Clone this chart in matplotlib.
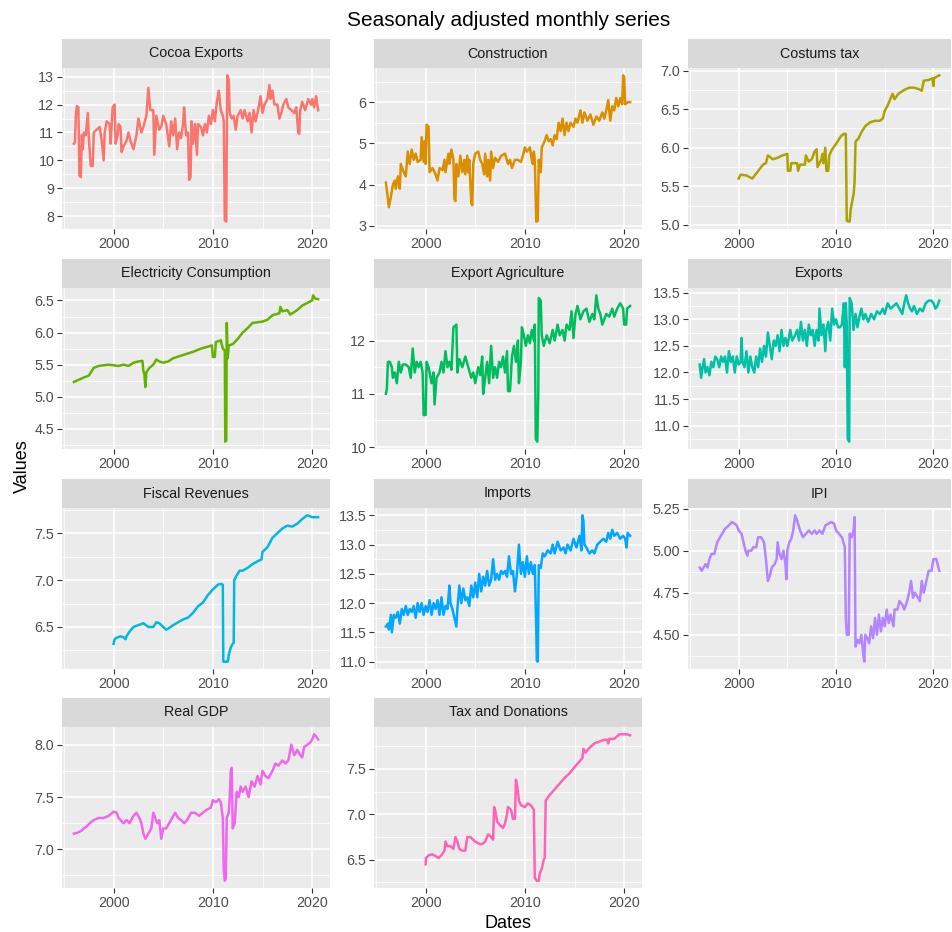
import matplotlib
matplotlib.use("Agg")
import matplotlib.pyplot as plt
from matplotlib.ticker import MultipleLocator, FormatStrFormatter

# ===== DATA =====
cocoa_t = [1996.0, 1996.1, 1996.2, 1996.3, 1996.45, 1996.55, 1996.7, 1996.8, 1996.9, 1997.0, 1997.2, 1997.4, 1997.5,
           1997.7, 1997.9, 1998.0, 1998.3, 1998.6, 1998.8, 1999.0, 1999.1, 1999.3, 1999.6, 1999.7, 1999.9, 2000.1,
           2000.2, 2000.4, 2000.5, 2000.7, 2000.8, 2001.0, 2001.3, 2001.5, 2001.7, 2002.0, 2002.3, 2002.5, 2002.8,
           2003.0, 2003.3, 2003.5, 2003.7, 2004.0, 2004.1, 2004.3, 2004.6, 2004.8, 2005.0, 2005.3, 2005.6, 2005.8,
           2006.0, 2006.2, 2006.4, 2006.6, 2006.8, 2007.0, 2007.1, 2007.3, 2007.5, 2007.6, 2007.75, 2007.85, 2008.0,
           2008.2, 2008.4, 2008.5, 2008.8, 2009.0, 2009.2, 2009.4, 2009.6, 2009.8, 2010.0, 2010.2, 2010.4, 2010.6,
           2010.8, 2011.0, 2011.1, 2011.2, 2011.35, 2011.45, 2011.6, 2011.7, 2011.9, 2012.1, 2012.3, 2012.5, 2012.8,
           2013.0, 2013.2, 2013.5, 2013.7, 2013.9, 2014.1, 2014.3, 2014.5, 2014.8, 2015.0, 2015.2, 2015.5, 2015.7,
           2015.8, 2016.0, 2016.2, 2016.5, 2016.7, 2016.9, 2017.1, 2017.4, 2017.6, 2017.9, 2018.2, 2018.4, 2018.6,
           2018.7, 2018.8, 2019.0, 2019.3, 2019.6, 2019.9, 2020.0, 2020.2, 2020.4, 2020.6]
cocoa_v = [10.6, 10.65, 11.6, 11.95, 11.9, 9.45, 9.4, 10.9, 10.4, 11.0, 10.9, 11.7, 10.8,
           9.8, 9.8, 11.0, 11.1, 11.2, 10.7, 10.0, 11.0, 11.4, 11.3, 10.6, 11.9, 12.0,
           10.6, 10.9, 11.3, 11.2, 10.3, 10.5, 10.7, 11.0, 10.7, 10.4, 10.9, 11.5, 11.0,
           11.2, 11.6, 12.6, 11.8, 11.8, 10.2, 11.6, 11.1, 11.2, 11.6, 11.3, 10.5, 11.4,
           10.9, 11.5, 10.4, 11.0, 10.8, 11.3, 11.9, 10.9, 11.0, 9.3, 9.4, 11.4, 10.6,
           11.3, 10.2, 11.3, 11.2, 10.9, 11.3, 11.0, 11.6, 11.3, 11.8, 11.4, 12.1, 12.5,
           11.8, 11.6, 11.4, 7.85, 7.8, 13.05, 12.9, 11.7, 11.5, 11.6, 11.1, 11.6, 11.8,
           11.5, 11.8, 11.4, 11.7, 11.0, 11.8, 11.4, 11.7, 12.3, 11.7, 12.0, 12.2, 12.7,
           12.2, 12.5, 12.0, 12.0, 11.5, 11.7, 12.0, 12.2, 11.9, 11.8, 11.7, 11.9, 11.0,
           10.95, 11.8, 12.1, 11.8, 12.2, 12.0, 12.2, 11.9, 12.3, 11.8]

construction_t = [1996.0, 1996.3, 1996.5, 1996.7, 1996.9, 1997.0, 1997.2, 1997.4, 1997.5, 1997.8, 1998.0, 1998.2,
                  1998.4, 1998.6, 1998.8, 1999.0, 1999.2, 1999.5, 1999.6, 1999.8, 1999.9, 2000.0, 2000.1, 2000.3,
                  2000.4, 2000.7, 2001.0, 2001.2, 2001.4, 2001.7, 2001.9, 2002.0, 2002.3, 2002.4, 2002.6, 2002.8,
                  2002.9, 2003.0, 2003.1, 2003.3, 2003.5, 2003.7, 2003.9, 2004.0, 2004.2, 2004.3, 2004.4, 2004.6,
                  2004.7, 2004.8, 2005.0, 2005.3, 2005.5, 2005.7, 2005.9, 2006.0, 2006.2, 2006.3, 2006.5, 2006.6,
                  2006.8, 2007.0, 2007.3, 2007.6, 2008.0, 2008.3, 2008.5, 2008.7, 2009.0, 2009.3, 2009.6, 2009.8,
                  2010.0, 2010.2, 2010.5, 2010.7, 2010.8, 2010.9, 2011.0, 2011.15, 2011.3, 2011.4, 2011.6, 2011.7,
                  2011.9, 2012.2, 2012.4, 2012.6, 2012.8, 2013.0, 2013.2, 2013.4, 2013.6, 2013.8, 2014.0, 2014.2,
                  2014.4, 2014.6, 2014.9, 2015.1, 2015.3, 2015.6, 2015.8, 2016.0, 2016.3, 2016.6, 2016.9, 2017.2,
                  2017.5, 2017.8, 2018.0, 2018.2, 2018.4, 2018.6, 2018.8, 2019.0, 2019.2, 2019.4, 2019.6, 2019.8,
                  2019.9, 2020.0, 2020.1, 2020.4, 2020.6]
construction_v = [4.05, 3.45, 3.7, 4.0, 4.1, 3.9, 4.2, 3.9, 4.5, 4.3, 4.2, 4.8,
                  4.5, 4.85, 4.6, 4.75, 4.55, 4.6, 5.15, 4.55, 5.05, 4.5, 5.45, 5.4,
                  4.3, 4.4, 4.25, 4.1, 4.4, 4.35, 4.6, 4.3, 4.75, 4.5, 4.85, 4.6,
                  3.65, 3.6, 4.5, 4.2, 4.7, 4.3, 4.6, 4.25, 4.7, 4.3, 4.6, 3.55,
                  3.5, 4.5, 4.75, 4.8, 4.6, 4.5, 4.25, 4.75, 4.2, 4.6, 4.1, 4.8,
                  4.4, 4.65, 4.55, 4.7, 4.75, 4.5, 4.6, 4.4, 4.6, 4.6, 4.55, 4.7,
                  4.9, 4.8, 4.9, 4.6, 4.5, 4.8, 4.6, 3.1, 3.12, 4.6, 4.3, 4.9,
                  5.0, 5.2, 5.05, 5.1, 4.95, 5.2, 5.1, 5.5, 5.3, 5.6, 5.2, 5.5,
                  5.3, 5.5, 5.4, 5.6, 5.5, 5.8, 5.5, 5.75, 5.55, 5.7, 5.45, 5.65,
                  5.55, 5.75, 5.6, 5.8, 6.05, 5.55, 5.9, 5.8, 6.1, 5.9, 6.1, 5.95,
                  6.65, 6.6, 5.95, 6.0, 6.0]

customs_t = [2000.0, 2000.2, 2000.8, 2001.4, 2002.5, 2002.8, 2003.0, 2003.5, 2004.0, 2004.5, 2005.0, 2005.05,
             2005.3, 2005.4, 2006.0, 2006.1, 2006.3, 2006.8, 2006.9, 2007.2, 2007.5, 2007.8, 2008.0, 2008.1,
             2008.5, 2008.6, 2008.7, 2008.9, 2009.0, 2009.2, 2009.3, 2009.6, 2010.0, 2010.5, 2010.8, 2011.0,
             2011.1, 2011.4, 2011.5, 2011.8, 2011.9, 2012.0, 2012.3, 2012.6, 2013.0, 2013.5, 2014.0, 2014.5,
             2014.8, 2015.0, 2015.3, 2015.8, 2016.0, 2016.4, 2017.0, 2017.5, 2018.0, 2018.5, 2018.8, 2019.0,
             2019.5, 2019.9, 2020.0, 2020.05, 2020.3, 2020.6]
customs_v = [5.6, 5.65, 5.64, 5.6, 5.78, 5.8, 5.9, 5.85, 5.87, 5.9, 5.92, 5.7,
             5.7, 5.8, 5.8, 5.7, 5.78, 5.78, 5.9, 5.82, 5.85, 5.95, 5.98, 5.75,
             5.85, 5.92, 5.8, 6.0, 5.7, 5.7, 5.9, 5.98, 6.05, 6.15, 6.18, 6.18,
             5.05, 5.04, 5.2, 5.4, 5.55, 6.08, 6.12, 6.2, 6.28, 6.33, 6.35, 6.35,
             6.38, 6.48, 6.55, 6.7, 6.63, 6.7, 6.75, 6.78, 6.78, 6.76, 6.74, 6.87,
             6.88, 6.9, 6.8, 6.9, 6.92, 6.94]

electricity_t = [1996.0, 1997.0, 1997.5, 1998.0, 1998.5, 1999.5, 2000.5, 2001.0, 2001.5, 2002.0, 2002.5, 2002.9,
                 2003.0, 2003.1, 2003.2, 2003.3, 2003.6, 2004.0, 2004.3, 2004.6, 2005.0, 2005.5, 2006.0, 2007.0,
                 2008.0, 2008.8, 2009.5, 2009.9, 2010.0, 2010.2, 2010.3, 2010.8, 2011.0, 2011.2, 2011.25, 2011.35,
                 2011.4, 2011.5, 2011.6, 2012.0, 2012.5, 2013.0, 2013.5, 2014.0, 2015.0, 2015.5, 2016.0, 2016.7,
                 2016.8, 2017.0, 2017.5, 2017.8, 2018.5, 2019.0, 2020.0, 2020.1, 2020.3, 2020.6]
electricity_v = [5.23, 5.3, 5.33, 5.45, 5.48, 5.5, 5.48, 5.5, 5.48, 5.53, 5.55, 5.56,
                 5.4, 5.35, 5.15, 5.38, 5.45, 5.5, 5.58, 5.55, 5.53, 5.55, 5.6, 5.65,
                 5.7, 5.75, 5.78, 5.8, 5.62, 5.62, 5.85, 5.88, 5.75, 5.72, 4.3, 4.32,
                 6.15, 5.6, 5.8, 5.82, 5.9, 6.0, 6.07, 6.15, 6.17, 6.2, 6.27, 6.3,
                 6.4, 6.33, 6.35, 6.28, 6.35, 6.42, 6.5, 6.58, 6.53, 6.52]

agri_t = [1996.0, 1996.1, 1996.2, 1996.4, 1996.6, 1996.7, 1996.9, 1997.1, 1997.3, 1997.5, 1997.7, 1998.0,
          1998.3, 1998.5, 1998.7, 1998.9, 1999.1, 1999.3, 1999.5, 1999.7, 1999.8, 2000.0, 2000.1, 2000.3,
          2000.6, 2000.8, 2000.9, 2001.1, 2001.4, 2001.6, 2001.8, 2002.0, 2002.2, 2002.4, 2002.6, 2002.8,
          2003.1, 2003.2, 2003.4, 2003.7, 2004.0, 2004.3, 2004.6, 2004.8, 2005.0, 2005.3, 2005.5, 2005.7,
          2005.8, 2006.0, 2006.2, 2006.4, 2006.6, 2006.8, 2007.0, 2007.2, 2007.4, 2007.6, 2007.8, 2008.0,
          2008.2, 2008.3, 2008.5, 2008.7, 2008.9, 2009.1, 2009.3, 2009.4, 2009.6, 2009.7, 2009.9, 2010.1,
          2010.3, 2010.5, 2010.7, 2010.9, 2011.0, 2011.1, 2011.25, 2011.35, 2011.4, 2011.6, 2011.7, 2011.9,
          2012.2, 2012.5, 2012.8, 2013.0, 2013.3, 2013.5, 2013.8, 2014.0, 2014.2, 2014.5, 2014.7, 2014.9,
          2015.1, 2015.3, 2015.6, 2015.9, 2016.2, 2016.5, 2016.8, 2017.0, 2017.2, 2017.4, 2017.6, 2017.8,
          2018.0, 2018.2, 2018.5, 2018.8, 2019.0, 2019.3, 2019.6, 2019.9, 2020.0, 2020.2, 2020.3, 2020.6]
agri_v = [11.0, 11.1, 11.6, 11.6, 11.5, 11.3, 11.4, 11.2, 11.6, 11.4, 11.55, 11.55,
          11.5, 11.3, 11.85, 11.4, 11.6, 11.5, 11.6, 11.4, 10.6, 10.6, 11.6, 11.5,
          11.2, 11.4, 10.8, 11.3, 11.4, 11.6, 11.4, 11.8, 11.5, 11.6, 11.45, 12.25,
          12.3, 11.4, 11.65, 11.5, 11.7, 11.5, 11.3, 11.4, 11.2, 11.5, 11.35, 11.7,
          11.0, 11.3, 11.6, 11.2, 11.9, 11.3, 11.5, 11.3, 11.6, 11.5, 11.7, 11.4,
          11.8, 11.05, 11.05, 11.7, 11.9, 11.6, 12.0, 11.2, 11.6, 12.25, 12.1, 11.9,
          12.1, 11.95, 12.2, 12.0, 12.3, 10.15, 10.1, 11.0, 12.8, 12.75, 12.1, 11.9,
          12.1, 11.95, 12.2, 12.0, 12.3, 12.1, 12.2, 12.0, 12.3, 12.2, 12.55, 12.05,
          12.5, 12.65, 12.4, 12.55, 12.6, 12.35, 12.5, 12.4, 12.85, 12.6, 12.5, 12.3,
          12.4, 12.5, 12.45, 12.6, 12.45, 12.6, 12.7, 12.6, 12.3, 12.3, 12.6, 12.65]

exports_t = [1996.0, 1996.15, 1996.3, 1996.45, 1996.6, 1996.8, 1997.0, 1997.2, 1997.4, 1997.6, 1997.8, 1998.0,
             1998.2, 1998.4, 1998.6, 1998.8, 1999.0, 1999.2, 1999.4, 1999.6, 1999.8, 2000.0, 2000.2, 2000.3,
             2000.4, 2000.6, 2000.8, 2001.0, 2001.2, 2001.4, 2001.6, 2001.8, 2002.0, 2002.2, 2002.4, 2002.6,
             2002.8, 2003.0, 2003.2, 2003.4, 2003.6, 2003.8, 2004.0, 2004.2, 2004.4, 2004.6, 2004.8, 2005.0,
             2005.3, 2005.5, 2005.8, 2006.0, 2006.2, 2006.4, 2006.6, 2006.8, 2007.0, 2007.2, 2007.4, 2007.6,
             2007.8, 2008.0, 2008.2, 2008.3, 2008.5, 2008.7, 2008.9, 2009.0, 2009.2, 2009.4, 2009.6, 2009.8,
             2010.0, 2010.2, 2010.4, 2010.6, 2010.8, 2010.9, 2011.0, 2011.1, 2011.2, 2011.35, 2011.4, 2011.6,
             2011.8, 2012.0, 2012.2, 2012.4, 2012.6, 2012.8, 2013.0, 2013.3, 2013.6, 2013.9, 2014.2, 2014.5,
             2014.8, 2015.0, 2015.3, 2015.6, 2015.9, 2016.2, 2016.5, 2016.8, 2017.0, 2017.2, 2017.4, 2017.6,
             2017.8, 2018.0, 2018.3, 2018.6, 2018.9, 2019.2, 2019.5, 2019.8, 2020.0, 2020.2, 2020.4, 2020.6]
exports_v = [12.15, 11.9, 12.1, 12.25, 12.0, 12.1, 11.95, 12.2, 12.1, 12.3, 12.25, 12.1,
             12.3, 12.2, 12.3, 12.0, 12.4, 12.2, 12.3, 12.0, 12.3, 12.15, 12.2, 12.65,
             12.2, 12.1, 12.4, 12.0, 12.3, 12.1, 12.0, 12.3, 12.1, 12.45, 12.2, 12.5,
             12.3, 12.75, 12.5, 12.25, 12.6, 12.5, 12.7, 12.4, 12.8, 12.5, 12.65, 12.5,
             12.8, 12.6, 12.7, 12.8, 12.6, 12.95, 12.6, 12.8, 12.5, 12.9, 12.7, 12.8,
             12.5, 12.8, 12.6, 13.2, 12.7, 12.9, 12.4, 12.8, 12.95, 12.6, 13.2, 12.9,
             13.0, 12.85, 12.85, 12.9, 13.3, 12.1, 13.3, 12.9, 10.75, 10.7, 13.4, 13.3,
             12.8, 13.1, 12.85, 13.05, 13.2, 13.0, 13.1, 12.95, 13.1, 13.0, 13.15, 13.1,
             13.2, 13.1, 13.3, 13.2, 13.25, 13.3, 13.2, 13.1, 13.3, 13.45, 13.3, 13.2,
             13.15, 13.25, 13.1, 13.2, 13.15, 13.3, 13.35, 13.35, 13.3, 13.2, 13.25, 13.35]

fiscal_t = [2000.0, 2000.1, 2000.4, 2000.7, 2001.0, 2001.2, 2001.3, 2001.6, 2002.0, 2002.5, 2003.0, 2003.5,
            2004.0, 2004.3, 2004.6, 2005.0, 2005.3, 2005.6, 2006.0, 2006.5, 2007.0, 2007.5, 2008.0, 2008.5,
            2009.0, 2009.5, 2010.0, 2010.5, 2010.8, 2011.0, 2011.05, 2011.5, 2011.6, 2011.8, 2012.0, 2012.1,
            2012.15, 2012.4, 2012.7, 2013.0, 2013.5, 2014.0, 2014.5, 2014.9, 2015.0, 2015.5, 2016.0, 2016.5,
            2017.0, 2017.5, 2018.0, 2018.5, 2019.0, 2019.5, 2019.8, 2020.0, 2020.6]
fiscal_v = [6.32, 6.37, 6.39, 6.4, 6.39, 6.37, 6.4, 6.45, 6.5, 6.52, 6.54, 6.5,
            6.5, 6.55, 6.54, 6.5, 6.47, 6.49, 6.52, 6.55, 6.58, 6.6, 6.65, 6.72,
            6.76, 6.84, 6.9, 6.95, 6.96, 6.95, 6.13, 6.13, 6.2, 6.28, 6.32, 6.33,
            7.0, 7.05, 7.1, 7.1, 7.13, 7.17, 7.2, 7.22, 7.3, 7.35, 7.45, 7.5,
            7.55, 7.58, 7.57, 7.6, 7.65, 7.69, 7.68, 7.67, 7.67]

imports_t = [1996.0, 1996.2, 1996.3, 1996.5, 1996.6, 1996.8, 1997.0, 1997.2, 1997.4, 1997.6, 1997.8, 1998.0,
             1998.2, 1998.4, 1998.6, 1998.8, 1999.0, 1999.2, 1999.4, 1999.6, 1999.8, 2000.0, 2000.2, 2000.4,
             2000.6, 2000.8, 2001.0, 2001.2, 2001.4, 2001.6, 2001.8, 2002.0, 2002.2, 2002.4, 2002.5, 2002.7,
             2002.9, 2003.1, 2003.2, 2003.4, 2003.6, 2003.8, 2004.0, 2004.2, 2004.4, 2004.6, 2004.8, 2005.0,
             2005.2, 2005.4, 2005.6, 2005.8, 2006.0, 2006.2, 2006.4, 2006.6, 2006.8, 2007.0, 2007.2, 2007.4,
             2007.6, 2007.8, 2008.0, 2008.2, 2008.4, 2008.6, 2008.8, 2009.0, 2009.2, 2009.4, 2009.6, 2009.8,
             2010.0, 2010.2, 2010.4, 2010.6, 2010.8, 2011.0, 2011.15, 2011.2, 2011.3, 2011.4, 2011.6, 2011.8,
             2012.0, 2012.3, 2012.6, 2012.8, 2013.0, 2013.3, 2013.6, 2013.9, 2014.1, 2014.3, 2014.6, 2014.9,
             2015.2, 2015.5, 2015.7, 2015.8, 2015.9, 2016.0, 2016.2, 2016.5, 2016.8, 2017.0, 2017.3, 2017.6,
             2017.9, 2018.2, 2018.4, 2018.6, 2018.8, 2019.0, 2019.3, 2019.6, 2019.9, 2020.1, 2020.25, 2020.35,
             2020.6]
imports_v = [11.6, 11.65, 11.55, 11.8, 11.5, 11.8, 11.75, 11.85, 11.65, 11.9, 11.8, 11.95,
             11.8, 11.9, 11.85, 11.95, 11.75, 12.0, 11.85, 12.0, 11.8, 11.95, 11.85, 12.05,
             11.8, 12.0, 11.9, 12.05, 11.8, 12.1, 11.8, 11.95, 11.9, 12.3, 12.0, 11.9,
             11.75, 11.6, 11.9, 12.3, 12.0, 12.25, 12.05, 12.1, 11.95, 12.3, 12.1, 12.35,
             12.1, 12.5, 12.2, 12.45, 12.3, 12.55, 12.3, 12.4, 12.75, 12.4, 12.5, 12.4,
             12.55, 12.5, 12.55, 12.45, 12.8, 12.5, 12.55, 12.2, 12.5, 13.0, 12.5, 12.7,
             12.45, 12.8, 12.5, 12.7, 12.5, 12.65, 11.55, 11.02, 11.0, 12.65, 12.6, 12.85,
             12.8, 12.9, 12.85, 13.0, 12.85, 13.05, 12.9, 12.95, 12.85, 13.0, 12.9, 13.1,
             12.95, 13.15, 12.9, 13.5, 13.4, 13.0, 12.95, 12.85, 12.9, 12.85, 13.0, 13.05,
             13.1, 13.05, 13.2, 13.1, 13.25, 13.15, 13.2, 13.1, 13.15, 13.1, 12.95, 13.2,
             13.15]

ipi_t = [1996.0, 1996.2, 1996.4, 1996.6, 1996.8, 1997.0, 1997.2, 1997.5, 1997.8, 1998.0, 1998.3, 1998.6,
         1999.0, 1999.3, 1999.6, 1999.8, 2000.0, 2000.3, 2000.5, 2000.7, 2000.9, 2001.0, 2001.3, 2001.5,
         2001.8, 2002.0, 2002.3, 2002.6, 2002.8, 2003.0, 2003.2, 2003.4, 2003.7, 2003.9, 2004.0, 2004.2,
         2004.4, 2004.6, 2004.8, 2004.9, 2005.0, 2005.2, 2005.4, 2005.6, 2005.8, 2006.0, 2006.3, 2006.6,
         2006.9, 2007.2, 2007.5, 2007.8, 2008.0, 2008.3, 2008.6, 2008.9, 2009.2, 2009.5, 2009.8, 2010.0,
         2010.3, 2010.6, 2010.9, 2011.0, 2011.1, 2011.3, 2011.4, 2011.6, 2011.8, 2011.9, 2012.0, 2012.2,
         2012.4, 2012.6, 2012.8, 2012.9, 2013.0, 2013.2, 2013.4, 2013.6, 2013.8, 2014.0, 2014.2, 2014.4,
         2014.6, 2014.8, 2015.0, 2015.2, 2015.4, 2015.6, 2015.9, 2016.0, 2016.3, 2016.5, 2016.8, 2017.0,
         2017.3, 2017.5, 2017.7, 2017.9, 2018.1, 2018.4, 2018.6, 2018.8, 2019.0, 2019.2, 2019.5, 2019.8,
         2020.0, 2020.3, 2020.5, 2020.6]
ipi_v = [4.9, 4.88, 4.9, 4.92, 4.9, 4.95, 4.98, 4.98, 5.05, 5.07, 5.1, 5.13,
         5.15, 5.17, 5.16, 5.15, 5.12, 5.1, 5.05, 5.0, 4.97, 5.0, 5.0, 5.02,
         5.02, 5.08, 5.08, 5.05, 4.95, 4.82, 4.85, 4.9, 4.92, 4.95, 5.05, 4.98,
         4.95, 5.0, 4.92, 4.83, 5.0, 5.05, 5.07, 5.12, 5.21, 5.18, 5.12, 5.08,
         5.1, 5.12, 5.1, 5.12, 5.1, 5.12, 5.1, 5.15, 5.16, 5.17, 5.16, 5.12,
         5.1, 5.08, 5.02, 4.6, 4.5, 4.5, 5.1, 5.08, 5.12, 5.2, 4.43, 4.47,
         4.45, 4.5, 4.38, 4.34, 4.5, 4.48, 4.45, 4.55, 4.48, 4.6, 4.5, 4.62,
         4.52, 4.6, 4.55, 4.65, 4.57, 4.62, 4.55, 4.65, 4.65, 4.7, 4.68, 4.65,
         4.7, 4.75, 4.82, 4.72, 4.75, 4.72, 4.7, 4.82, 4.75, 4.8, 4.88, 4.88,
         4.95, 4.95, 4.9, 4.88]

gdp_t = [1996.0, 1996.4, 1996.8, 1997.0, 1997.3, 1997.6, 1998.0, 1998.5, 1999.0, 1999.5, 2000.0, 2000.3,
         2000.5, 2000.8, 2001.0, 2001.3, 2001.6, 2002.0, 2002.3, 2002.6, 2002.8, 2003.0, 2003.2, 2003.5,
         2003.8, 2004.0, 2004.2, 2004.4, 2004.6, 2004.8, 2005.0, 2005.3, 2005.6, 2005.9, 2006.2, 2006.5,
         2006.8, 2007.1, 2007.4, 2007.8, 2008.2, 2008.6, 2009.0, 2009.4, 2009.8, 2010.0, 2010.3, 2010.6,
         2010.8, 2011.0, 2011.1, 2011.2, 2011.3, 2011.4, 2011.6, 2011.7, 2011.8, 2011.9, 2012.0, 2012.2,
         2012.4, 2012.6, 2012.8, 2013.0, 2013.3, 2013.6, 2013.9, 2014.2, 2014.5, 2014.8, 2015.0, 2015.3,
         2015.6, 2016.0, 2016.3, 2016.6, 2017.0, 2017.3, 2017.6, 2017.9, 2018.2, 2018.5, 2018.8, 2019.0,
         2019.2, 2019.5, 2019.8, 2020.0, 2020.2, 2020.4, 2020.6]
gdp_v = [7.15, 7.16, 7.18, 7.2, 7.22, 7.25, 7.28, 7.3, 7.3, 7.32, 7.36, 7.35,
         7.3, 7.27, 7.25, 7.28, 7.25, 7.32, 7.35, 7.3, 7.25, 7.15, 7.1, 7.15,
         7.2, 7.35, 7.3, 7.25, 7.28, 7.1, 7.2, 7.2, 7.25, 7.3, 7.35, 7.3,
         7.28, 7.25, 7.28, 7.35, 7.35, 7.32, 7.35, 7.38, 7.4, 7.47, 7.45, 7.48,
         7.45, 7.3, 6.8, 6.7, 6.72, 7.3, 7.35, 7.5, 7.75, 7.78, 7.2, 7.25,
         7.55, 7.5, 7.6, 7.55, 7.6, 7.5, 7.65, 7.6, 7.7, 7.62, 7.75, 7.7,
         7.68, 7.75, 7.82, 7.8, 7.85, 7.82, 7.85, 8.0, 7.9, 7.95, 7.9, 7.88,
         7.98, 8.0, 8.02, 8.05, 8.1, 8.08, 8.05]

taxdon_t = [2000.0, 2000.05, 2000.3, 2000.7, 2001.0, 2001.3, 2001.6, 2001.9, 2002.0, 2002.2, 2002.5, 2002.8,
            2003.0, 2003.2, 2003.4, 2003.7, 2004.0, 2004.2, 2004.5, 2004.8, 2005.0, 2005.5, 2005.8, 2006.0,
            2006.3, 2006.6, 2006.8, 2006.9, 2007.0, 2007.2, 2007.5, 2007.8, 2008.0, 2008.2, 2008.3, 2008.6,
            2008.8, 2009.0, 2009.1, 2009.25, 2009.4, 2009.6, 2010.0, 2010.3, 2010.6, 2010.9, 2011.0, 2011.2,
            2011.4, 2011.5, 2011.7, 2011.9, 2012.0, 2012.1, 2012.4, 2012.8, 2013.2, 2013.6, 2014.0, 2014.5,
            2015.0, 2015.5, 2015.8, 2015.9, 2016.1, 2016.5, 2017.0, 2017.5, 2018.0, 2018.3, 2018.4, 2018.5,
            2019.0, 2019.5, 2020.0, 2020.3, 2020.6]
taxdon_v = [6.45, 6.52, 6.55, 6.56, 6.54, 6.52, 6.55, 6.6, 6.7, 6.65, 6.65, 6.62,
            6.75, 6.7, 6.62, 6.6, 6.6, 6.75, 6.75, 6.72, 6.7, 6.67, 6.68, 6.7,
            6.78, 6.75, 6.72, 7.08, 7.05, 6.92, 6.88, 6.85, 6.9, 7.0, 7.08, 7.05,
            6.95, 6.95, 7.38, 7.3, 7.15, 7.1, 7.08, 7.12, 7.1, 7.05, 6.3, 6.27,
            6.27, 6.35, 6.4, 6.5, 6.52, 7.15, 7.2, 7.25, 7.3, 7.35, 7.4, 7.45,
            7.52, 7.58, 7.62, 7.72, 7.68, 7.73, 7.78, 7.8, 7.82, 7.82, 7.78, 7.83,
            7.83, 7.88, 7.88, 7.88, 7.87]

series_names = ["Cocoa Exports", "Construction", "Costums tax", "Electricity Consumption", "Export Agriculture",
                "Exports", "Fiscal Revenues", "Imports", "IPI", "Real GDP", "Tax and Donations"]
series_times = [cocoa_t, construction_t, customs_t, electricity_t, agri_t, exports_t,
                fiscal_t, imports_t, ipi_t, gdp_t, taxdon_t]
series_values = [cocoa_v, construction_v, customs_v, electricity_v, agri_v, exports_v,
                 fiscal_v, imports_v, ipi_v, gdp_v, taxdon_v]
x_ticks = [2000, 2010, 2020]

# ===== STYLE =====
# ggplot2 hue_pal() for 11 levels
COLORS = ["#F8766D", "#DB8E00", "#AEA200", "#64B200", "#00BD5C", "#00C1A7",
          "#00BADE", "#00A6FF", "#B385FF", "#EF67EB", "#FF63B6"]
Y_STEP = [1.0, 1.0, 0.5, 0.5, 1.0, 0.5, 0.5, 0.5, 0.25, 0.5, 0.5]
Y_FMT = ["%d", "%d", "%.1f", "%.1f", "%d", "%.1f", "%.1f", "%.1f", "%.2f", "%.1f", "%.1f"]
FONT = ["Liberation Sans", "DejaVu Sans"]
PANEL_BG = "#EBEBEB"
STRIP_BG = "#D9D9D9"
TEXT_DARK = "#1A1A1A"
TICK_TEXT = "#4D4D4D"

FIG_W, FIG_H = 953, 932
COL_X = [(62, 330), (374, 642), (688, 951)]
ROW_BOTTOM = [229, 449, 669, 888]
PANEL_H = 161
STRIP_H = 29
XLIM = (1994.8, 2021.8)


def px_rect(left, top, right, bottom):
    return [left / FIG_W, 1 - bottom / FIG_H, (right - left) / FIG_W, (bottom - top) / FIG_H]


def draw_panel(fig, idx):
    row, col = divmod(idx, 3)
    left, right = COL_X[col]
    bottom = ROW_BOTTOM[row]
    top = bottom - PANEL_H

    ax = fig.add_axes(px_rect(left, top, right, bottom))
    ax.set_facecolor(PANEL_BG)
    for side in ax.spines.values():
        side.set_visible(False)
    ax.plot(series_times[idx], series_values[idx], color=COLORS[idx], linewidth=1.8, zorder=3)

    vals = series_values[idx]
    lo, hi = min(vals), max(vals)
    pad = 0.05 * (hi - lo)
    ax.set_ylim(lo - pad, hi + pad)
    ax.set_xlim(*XLIM)

    ax.xaxis.set_major_locator(plt.FixedLocator(x_ticks))
    ax.xaxis.set_minor_locator(plt.FixedLocator([1995, 2005, 2015]))
    ax.yaxis.set_major_locator(MultipleLocator(Y_STEP[idx]))
    ax.yaxis.set_minor_locator(MultipleLocator(Y_STEP[idx] / 2))
    ax.yaxis.set_major_formatter(FormatStrFormatter(Y_FMT[idx]))
    ax.grid(True, which="major", color="white", linewidth=1.1, zorder=1)
    ax.grid(True, which="minor", color="white", linewidth=0.55, zorder=1)
    ax.set_axisbelow(True)
    ax.tick_params(which="major", length=3.5, width=0.8, color="#333333", labelsize=10.3,
                   labelcolor=TICK_TEXT, pad=2)
    ax.tick_params(which="minor", length=0)
    for lab in ax.get_xticklabels() + ax.get_yticklabels():
        lab.set_family(FONT)

    sax = fig.add_axes(px_rect(left, top - STRIP_H, right, top))
    sax.set_facecolor(STRIP_BG)
    sax.set_xticks([])
    sax.set_yticks([])
    for side in sax.spines.values():
        side.set_visible(False)
    sax.text(0.5, 0.5, series_names[idx], ha="center", va="center", fontsize=10.3,
             color=TEXT_DARK, family=FONT, transform=sax.transAxes)


def main() -> None:
    fig = plt.figure(figsize=(FIG_W / 100, FIG_H / 100), dpi=100, facecolor="white")
    for idx in range(len(series_names)):
        draw_panel(fig, idx)

    fig.text(509 / FIG_W, 1 - 20 / FIG_H, "Seasonaly adjusted monthly series", ha="center", va="center",
             fontsize=15, color="black", family=FONT)
    fig.text(508 / FIG_W, 1 - 924 / FIG_H, "Dates", ha="center", va="center", fontsize=13,
             color="black", family=FONT)
    fig.text(22 / FIG_W, 1 - 466 / FIG_H, "Values", ha="center", va="center", rotation=90, fontsize=13,
             color="black", family=FONT)

    fig.savefig("out.png", dpi=100, facecolor="white")


if __name__ == "__main__":
    main()
